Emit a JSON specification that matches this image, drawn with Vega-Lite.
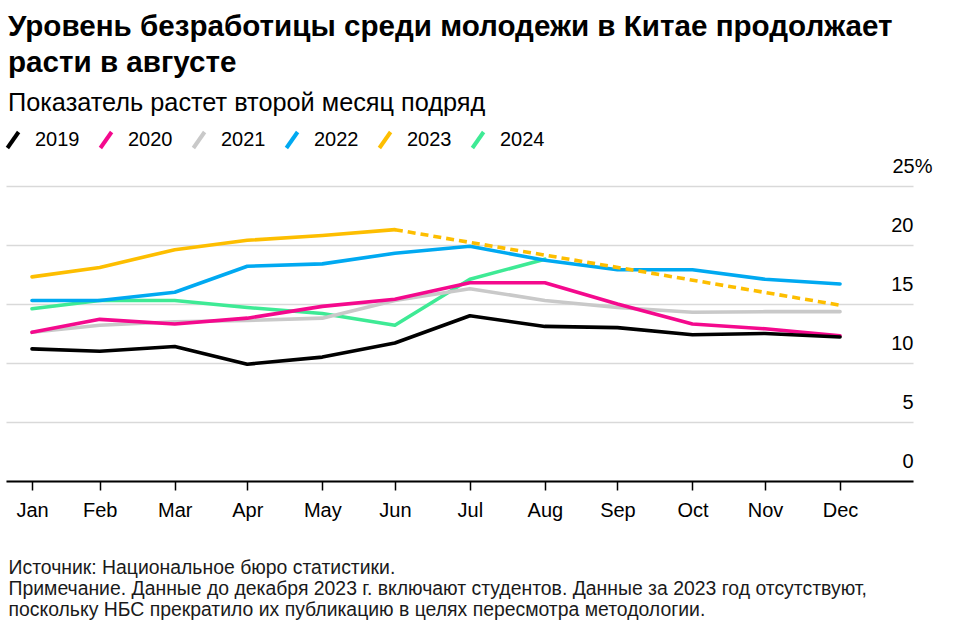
{
  "$schema": "https://vega.github.io/schema/vega-lite/v6.json",
  "autosize": {"type": "none"},
  "width": 907,
  "height": 295,
  "padding": {"left": 6, "top": 186, "right": 48, "bottom": 157},
  "background": "#ffffff",
  "config": {
    "view": {"stroke": null},
    "font": "Liberation Sans"
  },
  "title": {
    "text": ["Уровень безработицы среди молодежи в Китае продолжает", "расти в августе"],
    "subtitle": "Показатель растет второй месяц подряд",
    "anchor": "start",
    "frame": "group",
    "dx": 2,
    "fontSize": 29.6,
    "fontWeight": "bold",
    "lineHeight": 36,
    "color": "#000000",
    "subtitleFontSize": 25.3,
    "subtitleColor": "#000000",
    "subtitlePadding": 12,
    "offset": 13
  },
  "data": {
    "values": [
      {"year": "2024", "date": "2021-01-31", "rate": 14.6, "kind": "solid"},
      {"year": "2024", "date": "2021-02-28", "rate": 15.3, "kind": "solid"},
      {"year": "2024", "date": "2021-03-31", "rate": 15.3, "kind": "solid"},
      {"year": "2024", "date": "2021-04-30", "rate": 14.7, "kind": "solid"},
      {"year": "2024", "date": "2021-05-31", "rate": 14.2, "kind": "solid"},
      {"year": "2024", "date": "2021-06-30", "rate": 13.2, "kind": "solid"},
      {"year": "2024", "date": "2021-07-31", "rate": 17.1, "kind": "solid"},
      {"year": "2024", "date": "2021-08-31", "rate": 18.8, "kind": "solid"},
      {"year": "2023", "date": "2021-01-31", "rate": 17.3, "kind": "solid"},
      {"year": "2023", "date": "2021-02-28", "rate": 18.1, "kind": "solid"},
      {"year": "2023", "date": "2021-03-31", "rate": 19.6, "kind": "solid"},
      {"year": "2023", "date": "2021-04-30", "rate": 20.4, "kind": "solid"},
      {"year": "2023", "date": "2021-05-31", "rate": 20.8, "kind": "solid"},
      {"year": "2023", "date": "2021-06-30", "rate": 21.3, "kind": "solid"},
      {"year": "2023", "date": "2021-06-30", "rate": 21.3, "kind": "dashed"},
      {"year": "2023", "date": "2021-12-31", "rate": 14.9, "kind": "dashed"},
      {"year": "2022", "date": "2021-01-31", "rate": 15.3, "kind": "solid"},
      {"year": "2022", "date": "2021-02-28", "rate": 15.3, "kind": "solid"},
      {"year": "2022", "date": "2021-03-31", "rate": 16.0, "kind": "solid"},
      {"year": "2022", "date": "2021-04-30", "rate": 18.2, "kind": "solid"},
      {"year": "2022", "date": "2021-05-31", "rate": 18.4, "kind": "solid"},
      {"year": "2022", "date": "2021-06-30", "rate": 19.3, "kind": "solid"},
      {"year": "2022", "date": "2021-07-31", "rate": 19.9, "kind": "solid"},
      {"year": "2022", "date": "2021-08-31", "rate": 18.7, "kind": "solid"},
      {"year": "2022", "date": "2021-09-30", "rate": 17.9, "kind": "solid"},
      {"year": "2022", "date": "2021-10-31", "rate": 17.9, "kind": "solid"},
      {"year": "2022", "date": "2021-11-30", "rate": 17.1, "kind": "solid"},
      {"year": "2022", "date": "2021-12-31", "rate": 16.7, "kind": "solid"},
      {"year": "2021", "date": "2021-01-31", "rate": 12.6, "kind": "solid"},
      {"year": "2021", "date": "2021-02-28", "rate": 13.2, "kind": "solid"},
      {"year": "2021", "date": "2021-03-31", "rate": 13.5, "kind": "solid"},
      {"year": "2021", "date": "2021-04-30", "rate": 13.6, "kind": "solid"},
      {"year": "2021", "date": "2021-05-31", "rate": 13.8, "kind": "solid"},
      {"year": "2021", "date": "2021-06-30", "rate": 15.3, "kind": "solid"},
      {"year": "2021", "date": "2021-07-31", "rate": 16.3, "kind": "solid"},
      {"year": "2021", "date": "2021-08-31", "rate": 15.3, "kind": "solid"},
      {"year": "2021", "date": "2021-09-30", "rate": 14.7, "kind": "solid"},
      {"year": "2021", "date": "2021-10-31", "rate": 14.3, "kind": "solid"},
      {"year": "2021", "date": "2021-11-30", "rate": 14.35, "kind": "solid"},
      {"year": "2021", "date": "2021-12-31", "rate": 14.35, "kind": "solid"},
      {"year": "2020", "date": "2021-01-31", "rate": 12.6, "kind": "solid"},
      {"year": "2020", "date": "2021-02-28", "rate": 13.7, "kind": "solid"},
      {"year": "2020", "date": "2021-03-31", "rate": 13.3, "kind": "solid"},
      {"year": "2020", "date": "2021-04-30", "rate": 13.8, "kind": "solid"},
      {"year": "2020", "date": "2021-05-31", "rate": 14.8, "kind": "solid"},
      {"year": "2020", "date": "2021-06-30", "rate": 15.4, "kind": "solid"},
      {"year": "2020", "date": "2021-07-31", "rate": 16.8, "kind": "solid"},
      {"year": "2020", "date": "2021-08-31", "rate": 16.8, "kind": "solid"},
      {"year": "2020", "date": "2021-09-30", "rate": 15.0, "kind": "solid"},
      {"year": "2020", "date": "2021-10-31", "rate": 13.3, "kind": "solid"},
      {"year": "2020", "date": "2021-11-30", "rate": 12.9, "kind": "solid"},
      {"year": "2020", "date": "2021-12-31", "rate": 12.3, "kind": "solid"},
      {"year": "2019", "date": "2021-01-31", "rate": 11.2, "kind": "solid"},
      {"year": "2019", "date": "2021-02-28", "rate": 11.0, "kind": "solid"},
      {"year": "2019", "date": "2021-03-31", "rate": 11.4, "kind": "solid"},
      {"year": "2019", "date": "2021-04-30", "rate": 9.9, "kind": "solid"},
      {"year": "2019", "date": "2021-05-31", "rate": 10.5, "kind": "solid"},
      {"year": "2019", "date": "2021-06-30", "rate": 11.7, "kind": "solid"},
      {"year": "2019", "date": "2021-07-31", "rate": 14.0, "kind": "solid"},
      {"year": "2019", "date": "2021-08-31", "rate": 13.1, "kind": "solid"},
      {"year": "2019", "date": "2021-09-30", "rate": 13.0, "kind": "solid"},
      {"year": "2019", "date": "2021-10-31", "rate": 12.4, "kind": "solid"},
      {"year": "2019", "date": "2021-11-30", "rate": 12.5, "kind": "solid"},
      {"year": "2019", "date": "2021-12-31", "rate": 12.2, "kind": "solid"}
    ]
  },
  "encoding": {
    "x": {
      "field": "date",
      "type": "temporal",
      "scale": {
        "type": "utc",
        "domain": [
          {"year": 2021, "month": 1, "date": 20, "hours": 6, "utc": true},
          {"year": 2022, "month": 1, "date": 30, "hours": 4, "utc": true}
        ]
      },
      "axis": {
        "values": [
          {"year": 2021, "month": 1, "date": 31, "utc": true},
          {"year": 2021, "month": 2, "date": 28, "utc": true},
          {"year": 2021, "month": 3, "date": 31, "utc": true},
          {"year": 2021, "month": 4, "date": 30, "utc": true},
          {"year": 2021, "month": 5, "date": 31, "utc": true},
          {"year": 2021, "month": 6, "date": 30, "utc": true},
          {"year": 2021, "month": 7, "date": 31, "utc": true},
          {"year": 2021, "month": 8, "date": 31, "utc": true},
          {"year": 2021, "month": 9, "date": 30, "utc": true},
          {"year": 2021, "month": 10, "date": 31, "utc": true},
          {"year": 2021, "month": 11, "date": 30, "utc": true},
          {"year": 2021, "month": 12, "date": 31, "utc": true}
        ],
        "labelExpr": "utcFormat(datum.value, '%b')",
        "grid": false,
        "domainColor": "#000000",
        "domainWidth": 2,
        "tickColor": "#000000",
        "tickWidth": 1.5,
        "tickSize": 9,
        "labelFontSize": 20,
        "labelColor": "#000000",
        "labelPadding": 10,
        "labelFlush": false,
        "labelOverlap": false,
        "zindex": 1,
        "title": [
          "Источник: Национальное бюро статистики.",
          "Примечание. Данные до декабря 2023 г. включают студентов. Данные за 2023 год отсутствуют,",
          "поскольку НБС прекратило их публикацию в целях пересмотра методологии."
        ],
        "titleFontSize": 19.4,
        "titleFontWeight": "normal",
        "titleColor": "#1a1a1a",
        "titleLineHeight": 21,
        "titleAnchor": "start",
        "titleAlign": "left",
        "titleBaseline": "top",
        "titleX": 2,
        "titleY": 77
      }
    },
    "y": {
      "field": "rate",
      "type": "quantitative",
      "scale": {"domain": [0, 25], "nice": false, "zero": true},
      "axis": {
        "orient": "right",
        "values": [0, 5, 10, 15, 20, 25],
        "labelExpr": "datum.value == 25 ? '25%' : datum.label",
        "domain": false,
        "ticks": false,
        "tickSize": 0,
        "grid": true,
        "gridColor": "#d9d9d9",
        "gridWidth": 1.5,
        "labelAlign": "right",
        "labelBaseline": "alphabetic",
        "labelOffset": -14,
        "labelPadding": {"condition": {"test": "datum.value == 25", "value": 19}, "value": 0},
        "labelFontSize": 20,
        "labelColor": "#000000",
        "title": null
      }
    },
    "color": {
      "field": "year",
      "type": "nominal",
      "scale": {
        "domain": ["2019", "2020", "2021", "2022", "2023", "2024"],
        "range": ["#000000", "#f4098d", "#c9c9c9", "#00a9f1", "#fdbe00", "#3eea95"]
      },
      "legend": {
        "title": null,
        "orient": "none",
        "direction": "horizontal",
        "columns": 6,
        "legendX": -3,
        "legendY": -56,
        "symbolType": "M-0.7,1L0.7,-1",
        "symbolSize": 256,
        "symbolStrokeWidth": 4,
        "labelFontSize": 20,
        "labelColor": "#000000",
        "labelOffset": 12,
        "columnPadding": 12
      }
    }
  },
  "layer": [
    {
      "transform": [{"filter": "datum.kind == 'solid'"}],
      "mark": {"type": "line", "strokeWidth": 3.6, "strokeJoin": "round", "strokeCap": "round"}
    },
    {
      "transform": [{"filter": "datum.kind == 'dashed'"}],
      "mark": {"type": "line", "strokeWidth": 3.6, "strokeDash": [8, 5], "strokeCap": "butt"}
    }
  ]
}
